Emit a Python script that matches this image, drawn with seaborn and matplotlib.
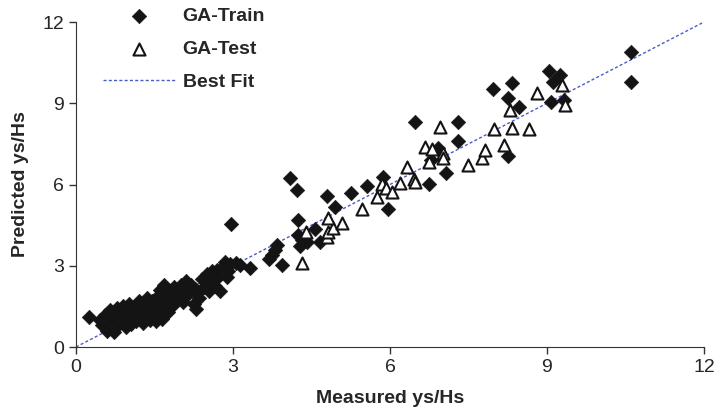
import numpy as np
import pandas as pd
import seaborn as sns
import matplotlib.pyplot as plt

# GA-Train (measured, predicted)
train_x = [0.25, 0.45, 0.5, 0.55, 0.6, 0.62, 0.65, 0.7, 0.72, 0.75, 0.78, 0.8, 0.85, 0.88, 0.9, 0.95, 0.98,
           1.0, 1.02, 1.05, 1.1, 1.12, 1.15, 1.18, 1.2, 1.25, 1.28, 1.3, 1.32, 1.35, 1.38, 1.4, 1.42, 1.45,
           1.48, 1.5, 1.52, 1.55, 1.58, 1.6, 1.62, 1.65, 1.68, 1.7, 1.72, 1.75, 1.78, 1.8, 1.85, 1.88, 1.9,
           1.92, 1.95, 2.0, 2.02, 2.05, 2.1, 2.12, 2.15, 2.2, 2.25, 2.28, 2.3, 2.32, 2.35, 2.4, 2.45, 2.5,
           2.52, 2.55, 2.6, 2.62, 2.65, 2.7, 2.72, 2.75, 2.8, 2.85, 2.88, 2.9, 2.95, 3.06, 2.97,
           3.13, 3.33, 3.69, 3.74, 3.8, 3.84, 3.93, 4.08, 4.22, 4.25, 4.25, 4.28, 4.31, 4.41, 4.57, 4.66,
           4.8, 4.94, 5.25, 5.56, 5.86, 5.97, 6.48, 6.75, 6.78, 6.92, 7.07, 7.29, 7.29,
           7.96, 8.26, 8.33, 8.26, 8.47, 9.04, 9.07, 9.11, 9.25, 9.33, 10.6, 10.6]
train_y = [1.1, 1.0, 0.8, 1.2, 0.6, 0.9, 1.35, 1.1, 0.55, 1.0, 1.45, 0.8, 1.2, 0.95, 1.5, 0.75, 1.3,
           1.05, 1.6, 0.85, 1.35, 1.15, 0.95, 1.5, 1.7, 1.25, 0.9, 1.45, 1.1, 1.8, 1.55, 1.3, 1.0, 1.7,
           1.45, 1.2, 0.95, 1.85, 1.6, 2.1, 1.35, 1.05, 2.3, 1.75, 1.55, 1.3, 2.0, 1.8, 1.55, 2.2, 1.95,
           1.7, 2.05, 2.3, 1.85, 1.65, 2.45, 2.1, 1.95, 2.3, 1.6, 2.15, 1.4, 2.0, 1.8, 2.5, 2.2, 2.7,
           2.35, 2.05, 2.8, 2.5, 2.25, 2.85, 2.6, 2.05, 2.95, 3.15, 2.6, 2.8, 3.05, 3.1, 4.55,
           3.03, 2.91, 3.24, 3.4, 3.58, 3.77, 3.03, 6.23, 5.8, 4.69, 4.14, 3.73, 3.95, 3.89, 4.35, 3.89,
           5.58, 5.16, 5.7, 5.95, 6.29, 5.08, 8.32, 6.02, 6.91, 7.34, 6.41, 8.32, 7.61,
           9.53, 9.21, 9.74, 7.07, 8.87, 10.19, 9.06, 9.77, 10.04, 9.12, 10.9, 9.8]

# GA-Test (measured, predicted)
test_x = [4.31, 4.4, 4.8, 4.82, 4.92, 5.08, 4.82, 5.46, 5.76, 5.84, 5.92, 6.03, 6.19, 6.45, 6.48, 6.33,
          6.75, 6.67, 6.8, 7.02, 7.02, 6.96, 7.5, 7.75, 7.82, 7.99, 8.18, 8.33, 8.66, 8.29, 8.8, 9.28, 9.34]
test_y = [3.09, 4.26, 4.07, 4.26, 4.38, 4.57, 4.75, 5.08, 5.53, 6.02, 5.86, 5.73, 6.04, 6.19, 6.1, 6.66,
          6.84, 7.37, 7.3, 7.15, 6.97, 8.11, 6.72, 6.97, 7.27, 8.04, 7.46, 8.1, 8.04, 8.75, 9.37, 9.67, 8.94]

fit_x = [0, 12]
fit_y = [0, 12]

train = pd.DataFrame({"Measured": train_x, "Predicted": train_y})
test = pd.DataFrame({"Measured": test_x, "Predicted": test_y})

sns.set_style("ticks")
plt.rcParams['font.family'] = ['Liberation Sans', 'DejaVu Sans']

fig = plt.figure(figsize=(7.14, 4.13), dpi=100)
ax = fig.add_axes([0.1064, 0.1598, 0.8796, 0.7869])

sns.lineplot(x=fit_x, y=fit_y, ax=ax, color="#4a5cc4", linewidth=1.0,
             linestyle=(0, (2.2, 1.6)), label="Best Fit", zorder=1)
sns.scatterplot(data=train, x="Measured", y="Predicted", ax=ax, marker="D", s=55,
                color="#141414", edgecolor="#141414", linewidth=0.4, label="GA-Train", zorder=3)
sns.scatterplot(data=test, x="Measured", y="Predicted", ax=ax, marker="^", s=75,
                facecolor="white", edgecolor="#141414", linewidth=1.5, label="GA-Test", zorder=4)

ax.set_xlim(0, 12)
ax.set_ylim(0, 12)
ax.set_xticks([0, 3, 6, 9, 12])
ax.set_yticks([0, 3, 6, 9, 12])
ax.tick_params(labelsize=14, length=5, width=1, color="#333333", direction="out")
ax.set_xlabel("Measured ys/Hs", fontsize=14, fontweight="bold", labelpad=10)
ax.set_ylabel("Predicted ys/Hs", fontsize=14, fontweight="bold", labelpad=10)
sns.despine(ax=ax)
for sp in ["left", "bottom"]:
    ax.spines[sp].set_color("#333333")

handles, labels = ax.get_legend_handles_labels()
order = [labels.index(l) for l in ["GA-Train", "GA-Test", "Best Fit"]]
leg = ax.legend([handles[i] for i in order], [labels[i] for i in order],
                loc="upper left", bbox_to_anchor=(103 / 714, 1 - 7 / 413),
                bbox_transform=fig.transFigure, frameon=False, borderpad=0, borderaxespad=0,
                handlelength=3.7, handletextpad=0.4, labelspacing=0.8,
                prop={"weight": "bold", "size": 14})

plt.savefig("out.png", dpi=100)
